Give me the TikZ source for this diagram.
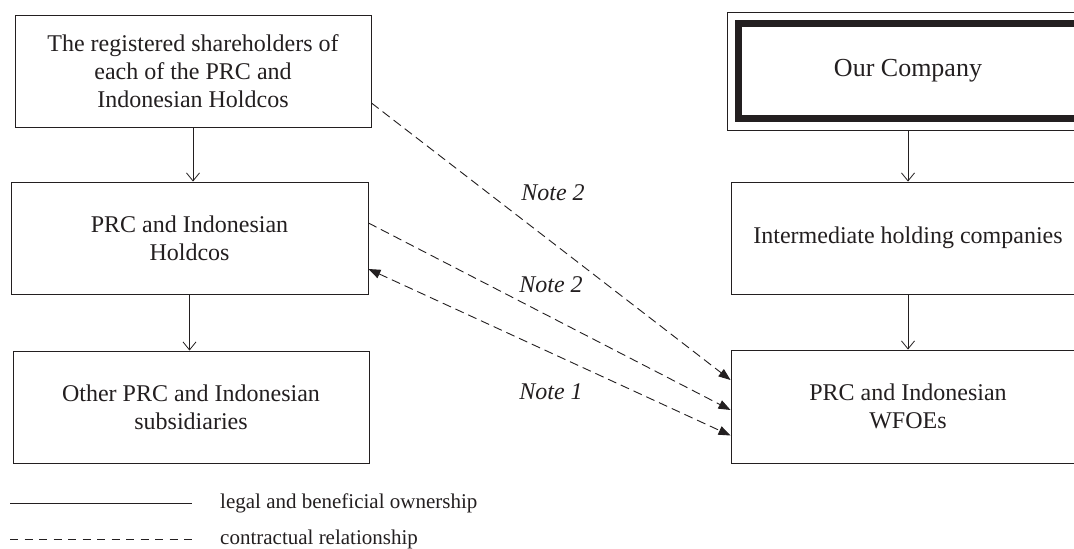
\documentclass[tikz,border=0pt]{standalone}
\usepackage{fontspec}
\setmainfont{Liberation Serif}
\usetikzlibrary{arrows.meta}
\definecolor{ink}{HTML}{231F20}
\begin{document}
\begin{tikzpicture}[x=1pt,y=-1pt,
  box/.style={draw=ink,line width=0.9pt,minimum width=356pt,minimum height=112pt,
    align=center,inner sep=0pt,font=\fontsize{24}{28}\selectfont,text=ink},
  own/.style={draw=ink,line width=0.9pt,-{Straight Barb[length=8pt,width=13pt,line width=0.8pt]}},
  contr/.style={draw=ink,line width=0.9pt,dash pattern=on 9pt off 5pt,-{Triangle[length=12pt,width=9pt]}},
  note/.style={font=\fontsize{24}{28}\selectfont\itshape,text=ink},
  legtext/.style={anchor=west,font=\fontsize{21}{24}\selectfont,text=ink,inner sep=0pt}]
\useasboundingbox (0,0) rectangle (1074,549);
\fill[white] (0,0) rectangle (1074,549);
% left column
\node[box] (A) at (193,71) {The registered shareholders of\\each of the PRC and\\Indonesian Holdcos};
\node[box,minimum width=357pt] (B) at (189.5,238) {PRC and Indonesian\\Holdcos};
\node[box] (C) at (191,407) {Other PRC and Indonesian\\subsidiaries};
% right column
\node[draw=ink,line width=7pt,minimum width=340pt,minimum height=95pt,inner sep=0pt,
  font=\fontsize{26}{30}\selectfont,text=ink] (O) at (908,71) {Our Company};
\draw[ink,line width=0.9pt] ([shift={(-7.5,-7.5)}]O.north west) rectangle ([shift={(7.5,8.5)}]O.south east);
\node[box,minimum width=354pt] (I) at (908,238) {Intermediate holding companies};
\node[box,minimum width=354pt,minimum height=113pt] (W) at (908,406.5) {PRC and Indonesian\\WFOEs};
% ownership arrows
\draw[own] ([yshift=-8.5pt]O.south) -- (O.south |- I.north);
\draw[own] (A.south) -- (A.south |- B.north);
\draw[own] (B.south) -- (B.south |- C.north);
\draw[own] (I.south) -- (I.south |- W.north);
% contractual arrows
\draw[contr] ([yshift=-32pt]A.east) -- ([yshift=26.5pt]W.west);
\draw[contr] ([yshift=15pt]B.east) -- ([yshift=-3.5pt]W.west);
\draw[contr,{Triangle[length=12pt,width=9pt]}-{Triangle[length=12pt,width=9pt]}] ([yshift=-31pt]B.east) -- ([yshift=-29pt]W.west);
\node[note] (n1) at (553,193) {Note 2};
\node[note] (n2) at (551,285) {Note 2};
\node[note] (n3) at (551,392) {Note 1};
% legend
\coordinate (l1a) at (10,503);
\coordinate (l1b) at (192,503);
\coordinate (l2a) at (10,539);
\coordinate (l2b) at (192,539);
\draw[ink,line width=0.9pt] (l1a) -- (l1b);
\draw[ink,line width=0.9pt,dash pattern=on 8pt off 6.5pt] (l2a) -- (l2b);
\node[legtext] (t1) at (220,503) {legal and beneficial ownership};
\node[legtext] (t2) at (220,539) {contractual relationship};
\end{tikzpicture}
\end{document}
